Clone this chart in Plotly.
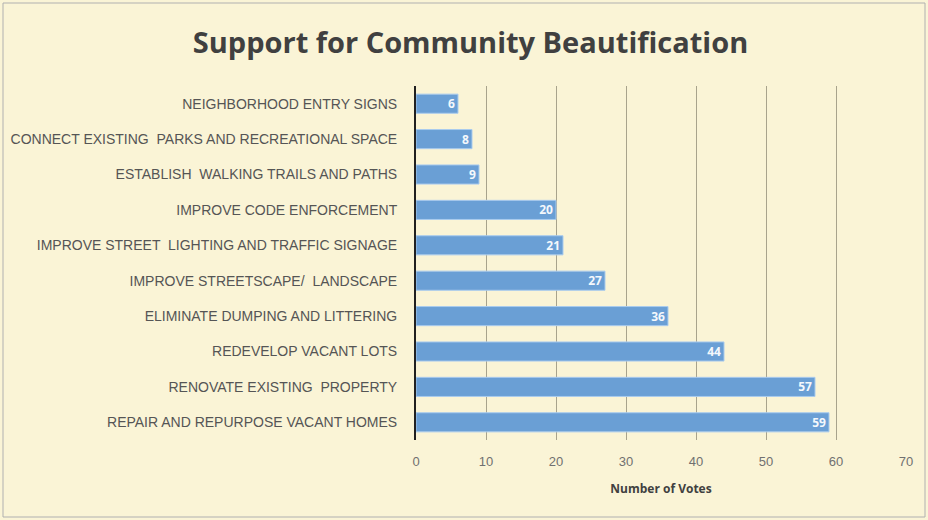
import plotly.graph_objects as go

categories = [
    "NEIGHBORHOOD ENTRY SIGNS",
    "CONNECT EXISTING  PARKS AND RECREATIONAL SPACE",
    "ESTABLISH  WALKING TRAILS AND PATHS",
    "IMPROVE CODE ENFORCEMENT",
    "IMPROVE STREET  LIGHTING AND TRAFFIC SIGNAGE",
    "IMPROVE STREETSCAPE/  LANDSCAPE",
    "ELIMINATE DUMPING AND LITTERING",
    "REDEVELOP VACANT LOTS",
    "RENOVATE EXISTING  PROPERTY",
    "REPAIR AND REPURPOSE VACANT HOMES",
]
votes = [6, 8, 9, 20, 21, 27, 36, 44, 57, 59]
x_ticks = [0, 10, 20, 30, 40, 50, 60, 70]

bg = "#FAF4D6"
label_font = "Liberation Sans, Arial, sans-serif"

L, R, T, B = 416, 22, 86, 80
PW, PH = 928 - L - R, 520 - T - B

fig = go.Figure(go.Bar(
    y=categories,
    x=votes,
    orientation="h",
    marker=dict(color="#6A9FD5", line=dict(color="#A9CBEE", width=1)),
    text=[f"<b>{v}</b>" for v in votes],
    textposition="inside",
    insidetextanchor="end",
    textangle=0,
    constraintext="none",
    textfont=dict(color="#F4F8FC", size=12, family="Open Sans"),
    hoverinfo="skip",
))

fig.update_layout(
    width=928, height=520,
    paper_bgcolor=bg, plot_bgcolor=bg,
    margin=dict(l=L, r=R, t=T, b=B),
    bargap=0.46,
    showlegend=False,
    title=dict(
        text="<b>Support for Community Beautification</b>",
        x=0.507, xanchor="center", y=0.918, yanchor="middle",
        font=dict(family="Open Sans", size=29, color="#404040"),
    ),
    xaxis=dict(
        range=[0, 70], tickvals=x_ticks, ticktext=[str(t) for t in x_ticks],
        showgrid=True, gridcolor="#A8A38C", gridwidth=1,
        zeroline=False, showline=False,
        tickfont=dict(family=label_font, size=13, color="#707070"),
        ticks="", ticklen=0, ticklabelstandoff=12,
        title=dict(text="<b>Number of Votes</b>", standoff=16,
                   font=dict(family="Open Sans", size=12, color="#404040")),
    ),
    yaxis=dict(
        autorange="reversed",
        showline=True, linecolor="#202020", linewidth=2,
        tickfont=dict(family=label_font, size=14, color="#555555"),
        ticks="", ticklen=0, ticklabelstandoff=14,
    ),
    shapes=[dict(type="rect", xref="paper", yref="paper",
                 x0=(3 - L) / PW, x1=(925 - L) / PW,
                 y0=-(B - 3) / PH, y1=1 + (T - 3) / PH,
                 line=dict(color="#B0B0B0", width=1))],
)

fig.write_html("out.html", config={"displayModeBar": False},
               post_script="document.body.style.margin='0';")
